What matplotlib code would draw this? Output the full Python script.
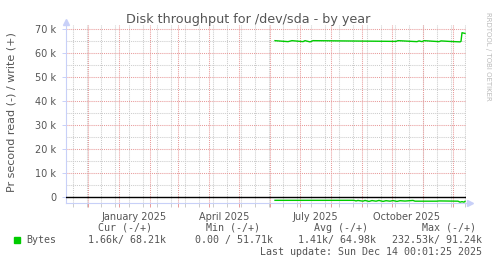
"""Munin style yearly disk throughput graph for /dev/sda."""

import matplotlib
matplotlib.use("Agg")
import matplotlib.pyplot as plt
import pandas as pd
from matplotlib.lines import Line2D

# write (+) bytes/s, in thousands
write_dates = ["2025-06-06", "2025-06-19", "2025-06-21", "2025-06-23",
               "2025-07-04", "2025-07-06", "2025-07-11", "2025-07-14",
               "2025-10-05", "2025-10-07", "2025-10-26", "2025-10-28",
               "2025-10-31", "2025-11-02", "2025-11-17", "2025-11-19",
               "2025-11-27", "2025-12-08", "2025-12-09", "2025-12-10",
               "2025-12-13"]
write_k = [65.0, 64.6, 64.8, 65.0, 64.6, 65.0, 64.5, 65.0, 64.7, 65.0, 64.6,
           64.9, 64.6, 65.0, 64.6, 64.9, 64.7, 64.5, 64.7, 68.3, 68.0]

# read (-) bytes/s, in thousands (drawn negative)
read_dates = ["2025-06-06", "2025-08-24", "2025-08-26", "2025-08-28",
              "2025-09-02", "2025-09-04", "2025-09-08", "2025-09-11",
              "2025-09-15", "2025-09-18", "2025-09-22", "2025-09-25",
              "2025-09-29", "2025-10-02", "2025-10-06", "2025-10-09",
              "2025-10-14", "2025-10-22", "2025-10-24", "2025-11-15",
              "2025-11-17", "2025-12-06", "2025-12-08", "2025-12-10",
              "2025-12-12", "2025-12-13"]
read_k = [1.25, 1.25, 1.5, 1.3, 1.6, 1.3, 1.7, 1.35, 1.6, 1.3, 1.7, 1.4, 1.6,
          1.35, 1.7, 1.4, 1.55, 1.3, 1.6, 1.6, 1.5, 1.6, 2.0, 1.8, 2.0, 1.66]

y_ticks = [0, 10, 20, 30, 40, 50, 60, 70]
y_labels = ["0", "10 k", "20 k", "30 k", "40 k", "50 k", "60 k", "70 k"]
x_label_dates = ["2025-01-16", "2025-04-16", "2025-07-16", "2025-10-16"]
x_labels = ["January 2025", "April 2025", "July 2025", "October 2025"]

legend_head = ["Cur (-/+)", "Min (-/+)", "Avg (-/+)", "Max (-/+)"]
legend_vals = ["1.66k/ 68.21k", "0.00 / 51.71k", "1.41k/ 64.98k",
               "232.53k/ 91.24k"]
last_update = "Last update: Sun Dec 14 00:01:25 2025"

end = pd.Timestamp("2025-12-14 00:01")
start = end - pd.Timedelta(days=400)

W, H = 497, 264
TXT = "#555555"
AXIS = "#c8d0f8"
GREEN = "#00cc00"
MINOR = "#cccccc"
MAJOR = "#e89a9a"


def fx(x):
    return x / W


def fy(y):
    return 1 - y / H


fig = plt.figure(figsize=(W / 100, H / 100), dpi=100)
ax = fig.add_axes([fx(66), fy(202.5), fx(466 - 66), (202.5 - 25) / H])
ax.set_xlim(start, end)
ax.set_ylim(-2.15, 71.5)

dots = dict(linewidth=0.75, linestyle=(0, (1, 1)))
minor_x = pd.date_range("2024-11-16 08:00", end, freq="14D")
major_x = pd.date_range("2024-12-01", end, freq="MS")
for d in minor_x:
    ax.axvline(d, color=MINOR, zorder=1, **dots)
for v in range(5, 75, 10):
    ax.axhline(v, color=MINOR, zorder=1, **dots)
for d in major_x:
    ax.axvline(d, color=MAJOR, zorder=2, **dots)
for v in y_ticks[1:]:
    ax.axhline(v, color=MAJOR, zorder=2, **dots)

ax.axhline(0, color="black", linewidth=1.0, zorder=3)
ax.plot(pd.to_datetime(write_dates), write_k, color=GREEN, linewidth=1.0,
        zorder=4)
ax.plot(pd.to_datetime(read_dates), [-v for v in read_k], color=GREEN,
        linewidth=1.0, zorder=4)

for s in ["top", "right"]:
    ax.spines[s].set_visible(False)
for s in ["left", "bottom"]:
    ax.spines[s].set_color(AXIS)
    ax.spines[s].set_linewidth(0.8)

ax.set_yticks(y_ticks)
ax.set_yticklabels(y_labels)
ax.tick_params(axis="y", length=3, width=0.7, color=AXIS, labelsize=7,
               labelcolor=TXT, pad=4)
ax.set_xticks(major_x)
ax.set_xticklabels([])
ax.set_xticks(minor_x, minor=True)
ax.tick_params(axis="x", which="major", length=3, width=0.7, color=MAJOR)
ax.tick_params(axis="x", which="minor", length=3, width=0.7, color=MINOR)

for d, lab in zip(x_label_dates, x_labels):
    ax.text(pd.Timestamp(d), -0.055, lab, transform=ax.get_xaxis_transform(),
            ha="center", va="top", fontsize=7, color=TXT)

# axis arrows
fig.add_artist(Line2D([fx(66)], [fy(22)], marker="^", markersize=4,
                      color=AXIS, linestyle=""))
fig.add_artist(Line2D([fx(470)], [fy(202.5)], marker=">", markersize=4,
                      color=AXIS, linestyle=""))
fig.add_artist(Line2D([fx(466), fx(469)], [fy(202.5)] * 2, color=AXIS,
                      linewidth=0.8))

fig.text(fx(248), fy(19.5), "Disk throughput for /dev/sda - by year",
         ha="center", va="center", fontsize=9.2, color=TXT)
fig.text(fx(12), fy(112), "Pr second read (-) / write (+)", rotation=90,
         ha="center", va="center", fontsize=8, color=TXT)
fig.text(fx(488), fy(56), "RRDTOOL / TOBI OETIKER", rotation=270,
         ha="center", va="center", fontsize=5, color="#bbbbbb")

mono = dict(family="DejaVu Sans Mono", fontsize=7.2, color=TXT, va="center")
head_right = [152, 260, 368, 476]
val_right = [166, 273, 376, 482]
for xr, t in zip(head_right, legend_head):
    fig.text(fx(xr), fy(228), t, ha="right", **mono)
for xr, t in zip(val_right, legend_vals):
    fig.text(fx(xr), fy(240), t, ha="right", **mono)
fig.text(fx(26), fy(240), "Bytes", ha="left", **mono)
fig.add_artist(plt.Rectangle((fx(14), fy(243)), 6 / W, 6 / H, color=GREEN,
                             transform=fig.transFigure))
fig.text(fx(482), fy(252), last_update, ha="right", **mono)

fig.savefig("out.png", dpi=100)
